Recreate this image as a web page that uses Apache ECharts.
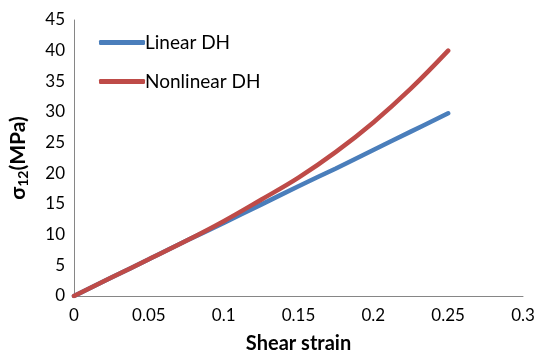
<!DOCTYPE html>
<html>
<head>
<meta charset="utf-8">
<script src="https://cdn.jsdelivr.net/npm/echarts@6/dist/echarts.min.js"></script>
<style>
  html, body { margin: 0; padding: 0; background: #fff; }
  #chart { width: 537px; height: 352px; }
</style>
</head>
<body>
<div id="chart"></div>
<script>
// Shear strain samples
const strain = [0, 0.025, 0.05, 0.075, 0.1, 0.125, 0.15, 0.175, 0.2, 0.225, 0.25];
// Shear stress sigma_12 (MPa)
const linearDH = [0, 3.0, 6.0, 9.0, 11.9, 14.9, 17.9, 20.8, 23.8, 26.8, 29.8];
const nonlinearDH = [0, 3.0, 6.0, 9.0, 12.2, 15.7, 19.3, 23.5, 28.3, 33.8, 40.0];
const seriesNames = ['Linear DH', 'Nonlinear DH'];
const seriesColors = ['#4A7EBB', '#BE4B48'];

const font = 'Lato, "Open Sans", sans-serif';
const pair = (xs, ys) => xs.map((x, i) => [x, ys[i]]);

const chart = echarts.init(document.getElementById('chart'));
chart.setOption({
  animation: false,
  grid: { left: 74, right: 14, top: 20, bottom: 56, containLabel: false, outerBoundsMode: 'none' },
  legend: {
    left: 94, top: 28, orient: 'vertical', itemGap: 20,
    itemWidth: 46, itemHeight: 5, icon: 'roundRect',
    textStyle: { fontFamily: font, fontSize: 19, color: '#000', padding: [0, 0, 0, -5] },
    data: seriesNames
  },
  xAxis: {
    type: 'value', min: 0, max: 0.3, interval: 0.05,
    name: 'Shear strain', nameLocation: 'middle', nameGap: 38,
    nameTextStyle: { fontFamily: font, fontSize: 20, fontWeight: 'bold', color: '#000' },
    axisLine: { lineStyle: { color: '#868686', width: 1 } },
    axisTick: { show: false },
    splitLine: { show: false },
    axisLabel: {
      fontFamily: font, fontSize: 17, color: '#000', margin: 11,
      formatter: v => String(parseFloat(v.toFixed(2)))
    }
  },
  yAxis: {
    type: 'value', min: 0, max: 45, interval: 5,
    name: '{m|σ}{s|12}{m|(MPa)}', nameLocation: 'middle', nameGap: 44, nameRotate: 90,
    nameTextStyle: {
      rich: {
        m: { fontFamily: font, fontSize: 21, fontWeight: 'bold', color: '#000' },
        s: { fontFamily: font, fontSize: 14, fontWeight: 'bold', color: '#000', verticalAlign: 'bottom', padding: [9, 0, 0, 0] }
      }
    },
    axisLine: { show: true, lineStyle: { color: '#868686', width: 1 } },
    axisTick: { show: false },
    splitLine: { show: false },
    axisLabel: { fontFamily: font, fontSize: 17, color: '#000', margin: 9 }
  },
  series: [
    {
      name: seriesNames[0], type: 'line', data: pair(strain, linearDH),
      smooth: 0.4, showSymbol: false, color: seriesColors[0],
      lineStyle: { width: 4.5, cap: 'round' }
    },
    {
      name: seriesNames[1], type: 'line', data: pair(strain, nonlinearDH),
      smooth: 0.4, showSymbol: false, color: seriesColors[1],
      lineStyle: { width: 4.5, cap: 'round' }
    }
  ]
});
</script>
</body>
</html>
